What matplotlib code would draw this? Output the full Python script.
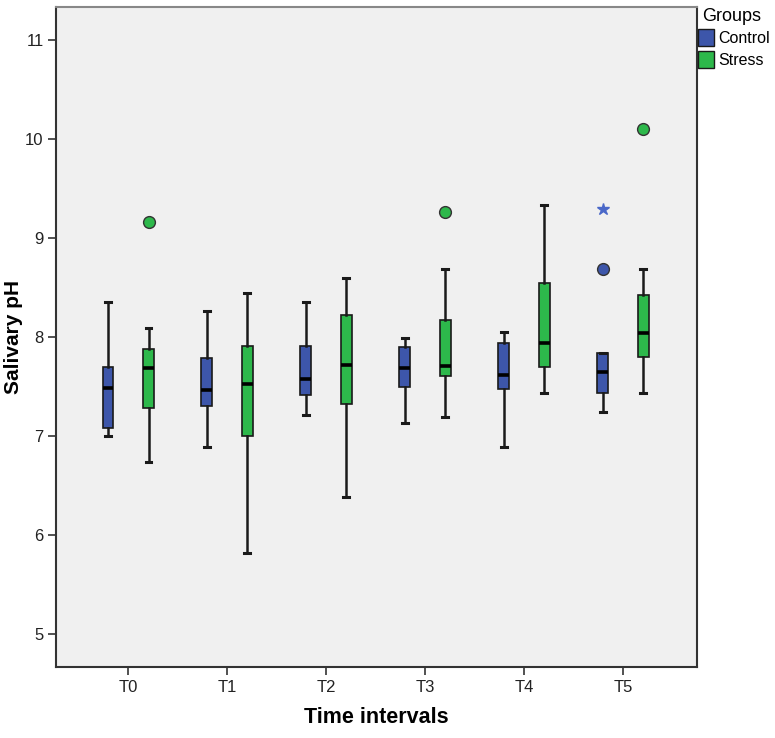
import matplotlib
matplotlib.use("Agg")
import matplotlib.pyplot as plt
from matplotlib.patches import Patch
import numpy as np

plt.rcParams['font.family'] = ['Liberation Sans', 'DejaVu Sans']

categories = ["T0", "T1", "T2", "T3", "T4", "T5"]
groups = ["Control", "Stress"]

# five-number summaries: whislo, q1, med, q3, whishi
control_whislo = [7.00, 6.89, 7.21, 7.13, 6.89, 7.24]
control_q1     = [7.08, 7.30, 7.41, 7.50, 7.48, 7.43]
control_med    = [7.49, 7.47, 7.58, 7.69, 7.62, 7.65]
control_q3     = [7.70, 7.79, 7.91, 7.90, 7.94, 7.84]
control_whishi = [8.35, 8.26, 8.35, 7.99, 8.05, 7.84]
control_outliers = [[], [], [], [], [], [8.69]]
control_extremes = [[], [], [], [], [], [9.29]]

stress_whislo = [6.74, 5.82, 6.39, 7.19, 7.44, 7.43]
stress_q1     = [7.28, 7.00, 7.32, 7.61, 7.70, 7.80]
stress_med    = [7.69, 7.53, 7.72, 7.71, 7.94, 8.04]
stress_q3     = [7.88, 7.91, 8.22, 8.17, 8.54, 8.42]
stress_whishi = [8.09, 8.44, 8.60, 8.69, 9.33, 8.69]
stress_outliers = [[9.16], [], [], [9.26], [], [10.10]]

colors = {"Control": "#3D56AA", "Stress": "#2DB84B"}

fig = plt.figure(figsize=(7.75, 7.38), dpi=100)
ax = fig.add_axes([0.0723, 0.0962, 0.8271, 0.8943])
ax.set_facecolor("#F0F0F0")

def make_stats(lo, q1, med, q3, hi, fl):
    return [dict(whislo=a, q1=b, med=c, q3=d, whishi=e, fliers=f)
            for a, b, c, d, e, f in zip(lo, q1, med, q3, hi, fl)]

x = np.arange(len(categories))
offset = 0.205
width = 0.11

sets = [
    ("Control", -offset, make_stats(control_whislo, control_q1, control_med,
                                     control_q3, control_whishi, control_outliers)),
    ("Stress", offset, make_stats(stress_whislo, stress_q1, stress_med,
                                  stress_q3, stress_whishi, stress_outliers)),
]
for name, off, stats in sets:
    ax.bxp(stats, positions=x + off, widths=width, patch_artist=True,
           capwidths=0.06, manage_ticks=False,
           boxprops=dict(facecolor=colors[name], edgecolor="#1a1a1a", linewidth=1.2),
           medianprops=dict(color="black", linewidth=2.6),
           whiskerprops=dict(color="#1a1a1a", linewidth=1.8),
           capprops=dict(color="#1a1a1a", linewidth=2.2),
           flierprops=dict(marker="o", markerfacecolor=colors[name],
                           markeredgecolor="#333333", markersize=8.5,
                           markeredgewidth=1.0, linestyle="none"))

for i, ext in enumerate(control_extremes):
    for v in ext:
        ax.plot(x[i] - offset, v, marker="*", color="#4A68C8", markersize=9,
                linestyle="none")

ax.set_xlim(-0.73, 5.75)
ax.set_ylim(4.67, 11.33)
ax.set_xticks(x)
ax.set_xticklabels(categories, fontsize=12)
ax.set_yticks([5, 6, 7, 8, 9, 10, 11])
ax.set_yticklabels(["5", "6", "7", "8", "9", "10", "11"], fontsize=12)
ax.tick_params(axis="both", length=6, width=1.2, color="#333333", pad=3,
               labelcolor="#222222")
for s in ["left", "bottom", "right"]:
    ax.spines[s].set_color("#333333")
    ax.spines[s].set_linewidth(1.5)
ax.spines["top"].set_color("#888888")
ax.spines["top"].set_linewidth(1.5)

ax.set_xlabel("Time intervals", fontsize=15.5, fontweight="bold")
ax.xaxis.set_label_coords(0.5, -0.077)
ax.xaxis.label.set_va("center")
ax.set_ylabel("Salivary pH", fontsize=15, fontweight="bold")
ax.yaxis.set_label_coords(-0.066, 0.5)
ax.yaxis.label.set_va("center")

handles = [Patch(facecolor=colors[g], edgecolor="#1a1a1a", linewidth=1.0, label=g)
           for g in groups]
leg = fig.legend(handles=handles, title="Groups", loc="upper left",
                 bbox_to_anchor=(0.896, 0.994), frameon=False, fontsize=11.5,
                 title_fontsize=13, handlelength=1.05, handleheight=1.25,
                 handletextpad=0.25, labelspacing=0.3, borderaxespad=0.0,
                 borderpad=0.2)
leg._legend_box.align = "left"
leg.get_title().set_position((5, 0))

fig.savefig("out.png", dpi=100)
